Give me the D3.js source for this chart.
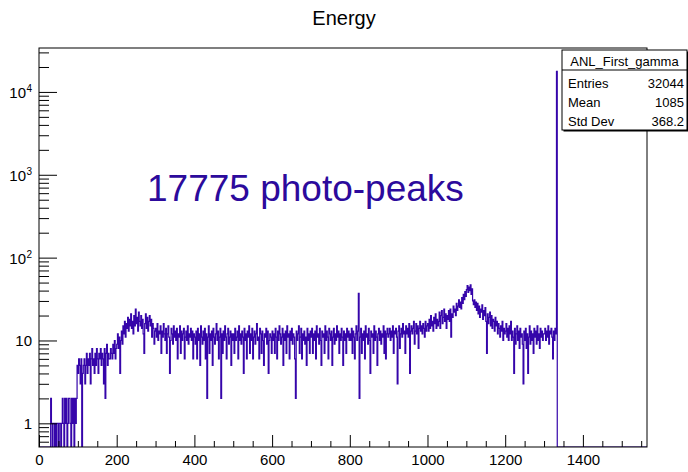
<!DOCTYPE html>
<html lang="en">
<head>
<meta charset="UTF-8">
<script src="https://d3js.org/d3.v7.min.js"></script>
<title>Energy</title>
<style>
  body { margin: 0; background: #fff; }
  svg { display: block; font-family: "Liberation Sans", Arial, Helvetica, sans-serif; }
</style>
</head>
<body>
<svg id="chart" width="688" height="472"></svg>
<script>
// counts per 2 keV bin, first bin starts at 0 keV (one row = 100 keV)
const binWidth = 2;
const counts = [
  0,0,0,0,0,0,0,0,0,0, 0,0,0,0,0,2,1,0,1,1, 0,1,0,1,1,0,1,1,0,1, 2,1,0,2,1,2,0,1,2,2, 1,0,2,1,2,0,2,1,2,5,
  4,6,5,3,6,0,4,5,6,3, 5,7,4,6,5,7,3,6,8,5, 6,4,7,5,8,6,4,7,6,8, 5,7,6,3,8,2,7,9,5,7, 6,6,8,7,6,9,7,10,6,8,
  9,12,8,11,4,10,13,9,15,12, 17,11,16,14,19,13,18,15,21,14, 17,12,20,15,24,16,19,13,22,17, 15,20,14,18,12,7,16,21,14,19, 13,17,20,15,18,11,16,14,9,13,
  14,11,16,10,13,12,15,7,13,11, 16,12,10,14,7,12,15,11,4,10, 14,12,9,15,11,13,10,14,6,12, 11,15,7,13,10,12,14,6,11,13, 10,15,9,12,11,14,10,13,6,12,
  11,9,13,6,14,10,12,5,15,11, 9,13,10,14,6,12,2,11,15,7, 12,10,13,5,14,11,9,12,16,10, 13,6,11,14,2,12,7,13,10,15, 11,6,12,14,9,11,13,5,12,10,
  12,7,14,10,11,13,6,15,10,12, 9,13,11,4,14,10,12,6,13,11, 15,7,12,10,14,6,11,13,9,12, 16,10,11,6,14,12,7,13,10,5, 12,11,14,9,13,4,10,12,11,7,
  13,10,12,7,14,11,6,13,10,15, 12,9,11,14,5,12,10,13,7,15, 11,12,6,13,10,14,9,12,11,6, 2,13,10,12,15,7,11,14,6,12, 10,13,9,11,5,14,10,12,7,13,
  11,14,7,12,10,13,6,15,11,12, 9,14,10,5,13,11,12,7,15,10, 13,11,6,14,12,10,13,5,11,14, 9,12,10,15,11,13,7,12,10,14, 11,5,13,10,12,7,14,11,13,10,
  12,10,14,7,13,11,6,12,15,10, 13,37,2,11,14,7,12,10,13,6, 15,11,12,9,14,10,4,13,11,12, 7,15,10,13,11,5,12,14,10,13, 9,12,11,15,7,13,6,12,14,11,
  12,14,10,13,11,15,7,13,12,14, 11,3,13,15,8,12,14,11,16,12, 13,7,15,12,14,11,16,4,13,15, 12,14,17,9,13,16,12,15,8,14, 17,13,15,12,16,14,11,17,13,15,
  16,13,18,14,20,15,17,13,19,16, 21,14,18,15,17,22,14,20,23,16, 19,24,17,21,14,20,18,23,17,24, 11,21,19,26,22,24,20,28,23,26, 31,25,29,24,33,28,36,31,39,34,
  41,46,38,44,40,47,36,42,30,27, 31,25,29,23,28,21,26,19,24,22, 27,18,23,20,25,17,7,21,16,19, 22,15,20,14,18,17,13,19,15,17, 12,16,14,11,15,13,17,10,14,12,
  13,16,11,14,10,15,12,17,10,13, 11,4,14,9,12,15,10,13,8,14, 11,12,9,3,13,10,14,8,12,4, 11,15,9,13,10,12,7,14,11,13, 9,15,10,12,8,14,11,13,10,12,
  12,14,10,13,11,15,9,13,12,14, 11,6,13,10,14,12,17775          // 1300-1334, photo-peak in the last bin
];
const xMax = 1565;
const xMajorTicks = [0, 200, 400, 600, 800, 1000, 1200, 1400];
const yMajorTicks = [1, 10, 100, 1000, 10000];
const yRange = [0.518, 33900];
const histName = "ANL_First_gamma";
const statNames = ["Entries", "Mean", "Std Dev"];
const statValues = ["32044", "1085", "368.2"];
const titleText = "Energy";
const noteText = "17775 photo-peaks";

const svg = d3.select("#chart");
const m = {left: 39, right: 647, top: 48, bottom: 447};
const lineColor = "#3505aa";

const x = d3.scaleLinear().domain([0, xMax]).range([m.left, m.right]);
const y = d3.scaleLog().domain(yRange).range([m.bottom, m.top]);

// title
svg.append("text")
  .attr("x", 344).attr("y", 25)
  .attr("text-anchor", "middle")
  .attr("font-size", 20)
  .text(titleText);

// histogram outline, empty bins fall to the bottom of the frame
svg.append("clipPath").attr("id", "plotClip")
  .append("rect")
  .attr("x", m.left).attr("y", m.top)
  .attr("width", m.right - m.left).attr("height", m.bottom - m.top);

const yv = v => v > 0 ? y(v) : m.bottom;
let d = `M${x(0)},${m.bottom}`;
counts.forEach((c, i) => { d += `V${yv(c)}H${x((i + 1) * binWidth)}`; });
d += `V${m.bottom}H${x(xMax)}`;

svg.append("path")
  .attr("d", d)
  .attr("clip-path", "url(#plotClip)")
  .attr("fill", "none")
  .attr("stroke", lineColor)
  .attr("stroke-width", 1.2);

// x axis - ticks point inward like ROOT
const xMinor = d3.range(0, xMax, 50).filter(v => v % 200 !== 0);
svg.append("g")
  .attr("transform", `translate(0,${m.bottom})`)
  .call(d3.axisBottom(x).tickValues(xMinor).tickSize(-6).tickFormat(""))
  .call(g => g.select(".domain").remove());
svg.append("g")
  .attr("transform", `translate(0,${m.bottom})`)
  .call(d3.axisBottom(x).tickValues(xMajorTicks).tickSize(-12).tickPadding(7).tickFormat(d3.format("d")))
  .call(g => g.select(".domain").remove())
  .call(g => g.selectAll("text").attr("font-size", 15).attr("fill", "#000")
    .attr("font-family", "Liberation Sans, Arial, sans-serif"));

// y axis - log, minor ticks 2..9 in every decade
const yMinor = [];
for (let e = -1; e <= 4; e++) {
  for (let k = 2; k <= 9; k++) {
    const v = k * Math.pow(10, e);
    if (v >= yRange[0] && v <= yRange[1]) yMinor.push(v);
  }
}
svg.append("g")
  .attr("transform", `translate(${m.left},0)`)
  .call(d3.axisLeft(y).tickValues(yMinor).tickSize(-10).tickFormat(""))
  .call(g => g.select(".domain").remove());
svg.append("g")
  .attr("transform", `translate(${m.left},0)`)
  .call(d3.axisLeft(y).tickValues(yMajorTicks).tickSize(-18).tickPadding(7).tickFormat(""))
  .call(g => g.select(".domain").remove())
  .call(g => g.selectAll(".tick").each(function(v) {
    const t = d3.select(this).select("text")
      .attr("font-size", 15).attr("fill", "#000")
      .attr("font-family", "Liberation Sans, Arial, sans-serif")
      .attr("dy", "0.36em");
    const p = Math.round(Math.log10(v));
    if (p < 2) {
      t.text(String(v));
    } else {
      t.attr("x", -13).text("10");
      d3.select(this).append("text")
        .attr("x", -7).attr("dy", "-0.05em")
        .attr("font-size", 10).attr("fill", "#000")
        .attr("text-anchor", "end")
        .attr("font-family", "Liberation Sans, Arial, sans-serif")
        .text(String(p));
    }
  }));

// frame
svg.append("rect")
  .attr("x", m.left).attr("y", m.top)
  .attr("width", m.right - m.left).attr("height", m.bottom - m.top)
  .attr("fill", "none").attr("stroke", "#000").attr("stroke-width", 1);

// annotation
svg.append("text")
  .attr("x", 147).attr("y", 201)
  .attr("font-size", 37)
  .attr("fill", "#2c0a9c")
  .text(noteText);

// stats box
const box = {x: 562, y: 50, w: 125, h: 80};
svg.append("rect")
  .attr("x", box.x + 1.5).attr("y", box.y + 1.5)
  .attr("width", box.w).attr("height", box.h)
  .attr("fill", "#000");
svg.append("rect")
  .attr("x", box.x).attr("y", box.y)
  .attr("width", box.w).attr("height", box.h)
  .attr("fill", "#fff").attr("stroke", "#000").attr("stroke-width", 1);
svg.append("line")
  .attr("x1", box.x).attr("x2", box.x + box.w)
  .attr("y1", box.y + 20).attr("y2", box.y + 20)
  .attr("stroke", "#000");
svg.append("text")
  .attr("x", box.x + box.w / 2).attr("y", box.y + 16)
  .attr("text-anchor", "middle").attr("font-size", 13)
  .text(histName);
const rowY = d3.scalePoint().domain(statNames).range([box.y + 38, box.y + 76]);
svg.append("g").selectAll("text")
  .data(statNames)
  .join("text")
  .attr("x", box.x + 6).attr("y", n => rowY(n))
  .attr("font-size", 13)
  .text(n => n);
svg.append("g").selectAll("text")
  .data(statValues)
  .join("text")
  .attr("x", box.x + box.w - 3).attr("y", (v, i) => rowY(statNames[i]))
  .attr("text-anchor", "end")
  .attr("font-size", 13)
  .text(v => v);
</script>
</body>
</html>
